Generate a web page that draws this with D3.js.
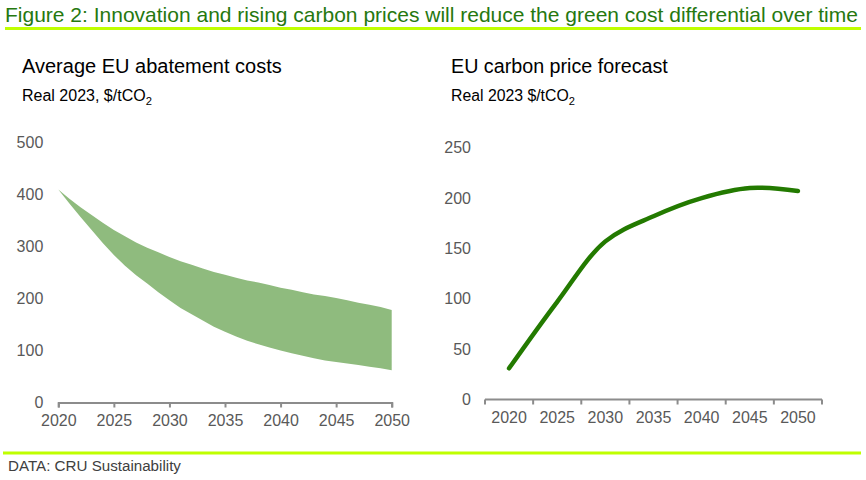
<!DOCTYPE html>
<html>
<head>
<meta charset="utf-8">
<script src="https://cdn.jsdelivr.net/npm/d3@7"></script>
<style>
  body { margin: 0; background: #fff; }
  svg text { font-family: "Liberation Sans", Arial, sans-serif; }
  .tick text { fill: #595959; font-size: 16px; }
</style>
</head>
<body>
<div id="chart"></div>
<script>
// abatement cost band (annual), left panel
var years = d3.range(2020, 2051);
var costHigh = [410, 392, 376, 361, 346, 332, 320, 308, 298, 289,
                280, 272, 265, 258, 251, 246, 240, 235, 231, 226,
                221, 217, 212, 208, 205, 201, 197, 192, 188, 184, 178];
var costLow  = [410, 383, 357, 332, 307, 284, 263, 245, 229, 212,
                197, 182, 170, 158, 146, 136, 127, 119, 112, 106,
                100, 95, 90, 85, 81, 78, 75, 72, 69, 66, 62];

// carbon price forecast, right panel
var priceYears = ["2020", "2025", "2030", "2035", "2040", "2045", "2050"];
var priceValues = [31, 97, 157, 182, 200, 210, 207];

var leftTicksY = [0, 100, 200, 300, 400, 500];
var leftTicksX = [2020, 2025, 2030, 2035, 2040, 2045, 2050];
var rightTicksY = [0, 50, 100, 150, 200, 250];

var width = 866, height = 480;
var lime = "#bfff00";
var axisGrey = "#8c8c8c";

var svg = d3.select("#chart").append("svg")
  .attr("width", width)
  .attr("height", height);

// scale a text's font so it spans roughly the same width as in the picture
function fitWidth(sel, size, target) {
  sel.style("font-size", size + "px");
  var w = sel.node().getComputedTextLength();
  sel.style("font-size", (size * target / w) + "px");
  return sel;
}

// header
var title = svg.append("text")
  .attr("x", 5)
  .attr("y", 22)
  .attr("fill", "#26780f")
  .text("Figure 2: Innovation and rising carbon prices will reduce the green cost differential over time");
fitWidth(title, 20, 853);

svg.append("line")
  .attr("x1", 5).attr("x2", 861)
  .attr("y1", 28.5).attr("y2", 28.5)
  .attr("stroke", lime).attr("stroke-width", 3);

svg.append("line")
  .attr("x1", 3).attr("x2", 861)
  .attr("y1", 453).attr("y2", 453)
  .attr("stroke", lime).attr("stroke-width", 3);

var src = svg.append("text")
  .attr("x", 8).attr("y", 471)
  .attr("fill", "#404040")
  .text("DATA: CRU Sustainability");
fitWidth(src, 13, 173);

function panelTitle(x, main, sub, mainW, subW) {
  var m = svg.append("text")
    .attr("x", x).attr("y", 73)
    .attr("fill", "#000")
    .text(main);
  fitWidth(m, 18, mainW);
  var t = svg.append("text")
    .attr("x", x).attr("y", 101)
    .attr("fill", "#000");
  t.append("tspan").text(sub);
  t.append("tspan").attr("dy", 4).style("font-size", "0.7em").text("2");
  fitWidth(t, 14, subW);
}

panelTitle(22, "Average EU abatement costs", "Real 2023, $/tCO", 260, 130);
panelTitle(451, "EU carbon price forecast", "Real 2023 $/tCO", 217, 124);

// ---- left panel: band area
var xL = d3.scaleLinear().domain([2020, 2050]).range([58.3, 391.7]);
var yL = d3.scaleLinear().domain([0, 500]).range([402.5, 142.7]);

var bandData = years.map(function(y, i) {
  return { year: y, hi: costHigh[i], lo: costLow[i] };
});

svg.append("path")
  .datum(bandData)
  .attr("fill", "#8fbb7e")
  .attr("d", d3.area()
    .x(function(d) { return xL(d.year); })
    .y0(function(d) { return yL(d.lo); })
    .y1(function(d) { return yL(d.hi); }));

var gyL = svg.append("g")
  .attr("transform", "translate(58.3,0)")
  .call(d3.axisLeft(yL).tickValues(leftTicksY).tickSize(0).tickPadding(15));
gyL.select(".domain").remove();

var gxL = svg.append("g")
  .attr("transform", "translate(0," + yL(0) + ")")
  .call(d3.axisBottom(xL).tickValues(leftTicksX).tickFormat(d3.format("d"))
    .tickSizeOuter(5).tickSizeInner(5).tickPadding(7));
gxL.select(".domain").attr("stroke", axisGrey).attr("stroke-width", 2);
gxL.selectAll(".tick line").attr("stroke", axisGrey).attr("stroke-width", 2);

// ---- right panel: price line on category axis
var xR = d3.scaleBand().domain(priceYears).range([485, 822]).padding(0);
var yR = d3.scaleLinear().domain([0, 250]).range([399.5, 147.7]);

var gyR = svg.append("g")
  .attr("transform", "translate(485,0)")
  .call(d3.axisLeft(yR).tickValues(rightTicksY).tickSize(0).tickPadding(14));
gyR.select(".domain").remove();

var gxR = svg.append("g")
  .attr("transform", "translate(0," + yR(0) + ")")
  .call(d3.axisBottom(xR).tickSize(0).tickPadding(12));
gxR.select(".domain").attr("stroke", axisGrey).attr("stroke-width", 2)
  .attr("d", "M" + xR.range()[0] + ",0H" + xR.range()[1]);

// tick marks sit between categories
var bounds = priceYears.map(function(c) { return xR(c); }).concat([xR(priceYears[priceYears.length - 1]) + xR.bandwidth()]);
gxR.selectAll("line.sep")
  .data(bounds)
  .enter().append("line")
  .attr("class", "sep")
  .attr("x1", function(d) { return d; })
  .attr("x2", function(d) { return d; })
  .attr("y1", 0).attr("y2", 5)
  .attr("stroke", axisGrey).attr("stroke-width", 2);

svg.append("path")
  .datum(priceValues)
  .attr("fill", "none")
  .attr("stroke", "#237a00")
  .attr("stroke-width", 4.5)
  .attr("stroke-linecap", "round")
  .attr("stroke-linejoin", "round")
  .attr("d", d3.line()
    .x(function(d, i) { return xR(priceYears[i]) + xR.bandwidth() / 2; })
    .y(function(d) { return yR(d); })
    .curve(d3.curveCatmullRom.alpha(0.5)));
</script>
</body>
</html>
